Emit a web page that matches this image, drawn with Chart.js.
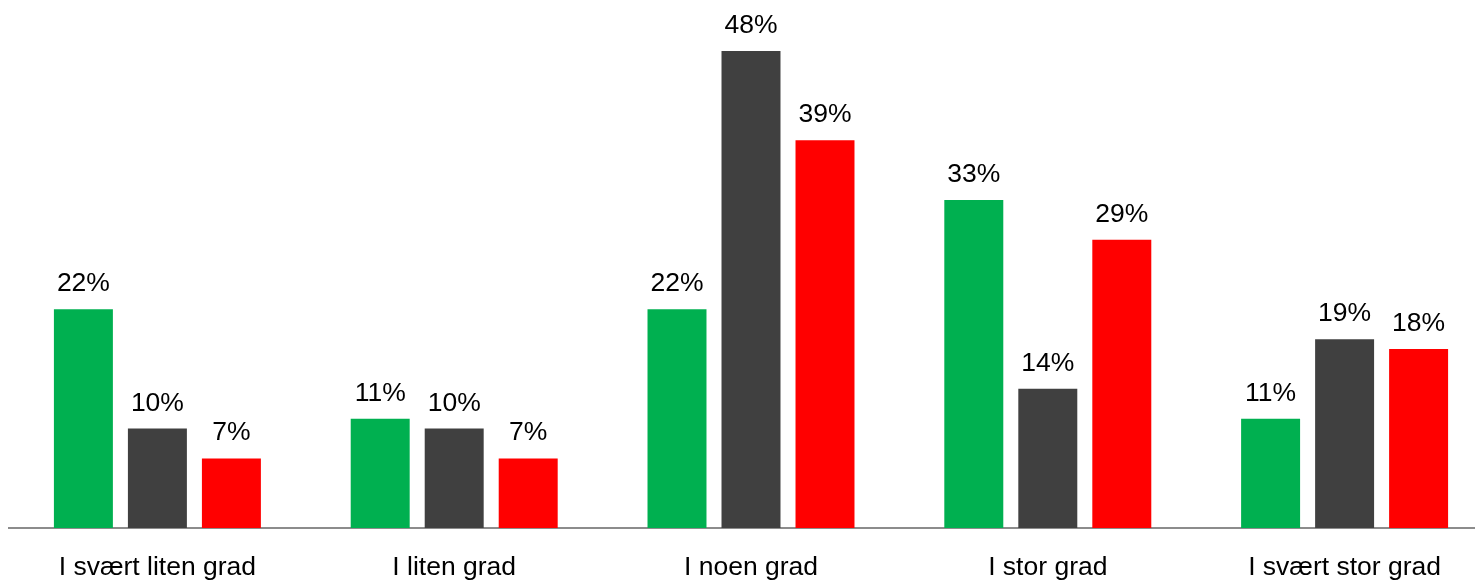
<!DOCTYPE html>
<html>
<head>
<meta charset="utf-8">
<script src="https://cdn.jsdelivr.net/npm/chart.js@4/dist/chart.umd.min.js"></script>
<style>
html,body{margin:0;padding:0;background:#fff;overflow:hidden;width:1475px;height:585px;}
canvas{display:block;}
</style>
</head>
<body>
<canvas id="c" width="1500" height="585" style="width:1500px;height:585px"></canvas>
<script>
const categories = ["I svært liten grad", "I liten grad", "I noen grad", "I stor grad", "I svært stor grad"];
const seriesGreen = [22, 11, 22, 33, 11];
const seriesGray = [10, 10, 48, 14, 19];
const seriesRed = [7, 7, 39, 29, 18];
const seriesColors = ["#00B050", "#404040", "#FF0000"];
const FONT = "'Liberation Sans', Arial, sans-serif";

const labelPlugin = {
  id: 'valueLabels',
  afterDatasetsDraw(chart) {
    const ctx = chart.ctx;
    ctx.save();
    ctx.font = "26.5px " + FONT;
    ctx.fillStyle = "#000";
    ctx.textAlign = "center";
    ctx.textBaseline = "alphabetic";
    chart.data.datasets.forEach((ds, di) => {
      const meta = chart.getDatasetMeta(di);
      meta.data.forEach((bar, i) => {
        ctx.fillText(ds.data[i] + "%", bar.x, bar.y - 18);
      });
    });
    ctx.restore();
  }
};

new Chart(document.getElementById('c'), {
  type: 'bar',
  data: {
    labels: categories,
    datasets: [
      { label: "A", data: seriesGreen, backgroundColor: seriesColors[0] },
      { label: "B", data: seriesGray, backgroundColor: seriesColors[1] },
      { label: "C", data: seriesRed, backgroundColor: seriesColors[2] }
    ]
  },
  options: {
    responsive: false,
    animation: false,
    devicePixelRatio: 1,
    categoryPercentage: 0.748,
    barPercentage: 0.797,
    layout: { padding: { left: 9, right: 7, top: 31, bottom: 0 } },
    plugins: { legend: { display: false }, tooltip: { enabled: false } },
    scales: {
      x: {
        grid: { display: false, drawTicks: false },
        border: { display: true, color: "#8c8c8c", width: 2 },
        afterFit(scale) { scale.height = 57; },
        ticks: {
          color: "#000",
          font: { family: FONT, size: 26.5 },
          padding: 24,
          autoSkip: false,
          maxRotation: 0,
          minRotation: 0
        }
      },
      y: {
        display: false,
        min: 0,
        max: 50
      }
    }
  },
  plugins: [labelPlugin]
});
</script>
</body>
</html>
